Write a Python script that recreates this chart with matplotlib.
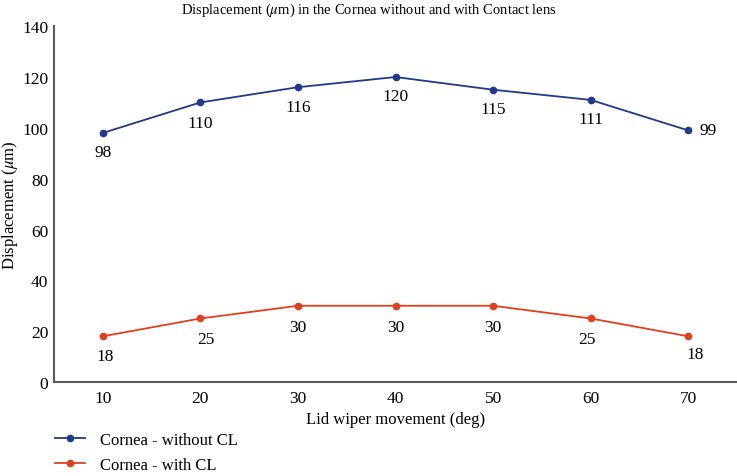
import matplotlib
matplotlib.use('Agg')
import matplotlib.pyplot as plt

# lid wiper angle vs displacement of the cornea
angles = [10, 20, 30, 40, 50, 60, 70]
without_cl = [98, 110, 116, 120, 115, 111, 99]
with_cl = [18, 25, 30, 30, 30, 25, 18]
yticks = [0, 20, 40, 60, 80, 100, 120, 140]

plt.rcParams['font.family'] = ['Liberation Serif', 'DejaVu Serif']
plt.rcParams['mathtext.fontset'] = 'stix'

blue = '#1f3a8c'
red = '#e2401c'
axis_col = '#5a5a5a'

fig = plt.figure(figsize=(7.37, 4.77), dpi=100)
ax = fig.add_axes([0.0733, 0.197, 0.9267, 0.746])

ax.plot(angles, without_cl, color=blue, lw=1.3, marker='o', ms=4.5,
        label='Cornea - without CL')
ax.plot(angles, with_cl, color=red, lw=1.3, marker='o', ms=4.5,
        label='Cornea - with CL')

# data labels: offsets in points (dx, dy)
off_blue = [(0, -14), (0, -15), (0, -14), (0, -14), (0, -14), (0, -14), (14, 0)]
off_red = [(2, -14), (4, -15), (0, -15), (0, -15), (0, -15), (-3, -15), (5, -13)]
for x, y, (dx, dy) in zip(angles, without_cl, off_blue):
    ax.annotate(str(y), (x, y), xytext=(dx, dy), textcoords='offset points',
                ha='center', va='center', fontsize=12.5)
for x, y, (dx, dy) in zip(angles, with_cl, off_red):
    ax.annotate(str(y), (x, y), xytext=(dx, dy), textcoords='offset points',
                ha='center', va='center', fontsize=12.5)

ax.set_xlim(5, 75)
ax.set_ylim(0, 140)
ax.set_xticks(angles)
ax.set_yticks(yticks)
ax.tick_params(length=0, labelsize=12.5, pad=4)
ax.tick_params(axis='x', pad=6)
for s in ['top', 'right']:
    ax.spines[s].set_visible(False)
for s in ['left', 'bottom']:
    ax.spines[s].set_color(axis_col)
    ax.spines[s].set_linewidth(1.5)

ax.set_xlabel('Lid wiper movement (deg)', fontsize=12, labelpad=3)
ax.set_ylabel(r'Displacement ($\mu$m)', fontsize=12, va='center')
ax.yaxis.set_label_coords(-0.064, 0.5)
fig.suptitle(r'Displacement ($\mu$m) in the Cornea without and with Contact lens',
             x=0.5, y=0.997, fontsize=10.5)

fig.legend(loc='upper left', bbox_to_anchor=(0.065, 0.107), frameon=False,
           fontsize=12, handlelength=1.8, handletextpad=0.9, labelspacing=0.55,
           borderaxespad=0)

fig.savefig('out.png', dpi=100)
